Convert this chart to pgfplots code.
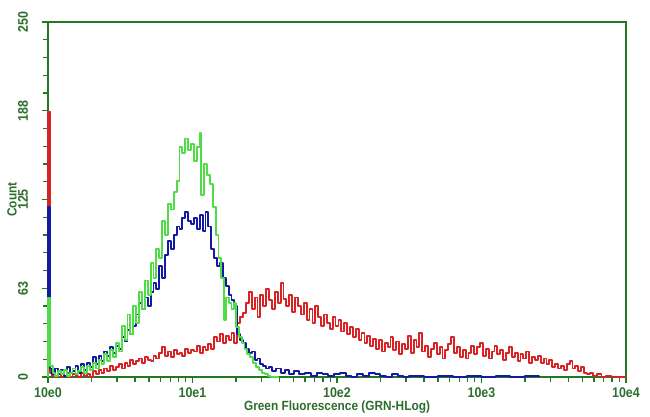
\documentclass[border=0pt]{standalone}
\usepackage{pgfplots}
\pgfplotsset{compat=1.18}
\usepackage{pgfplotstable}
\usepackage{fontspec}
\setmainfont[FakeStretch=0.89]{Liberation Sans}
\definecolor{frame}{RGB}{35,120,35}
\definecolor{lab}{RGB}{45,110,45}
\definecolor{cgreen}{RGB}{80,220,70}
\definecolor{cblue}{RGB}{20,25,165}
\definecolor{cred}{RGB}{215,35,35}

\pgfplotstableread[row sep=\\]{
d v \\
0 0 \\ 0.001 56 \\ 0.012 8 \\ 0.032 3 \\ 0.05 1 \\ 0.07 4 \\ 0.09 2 \\ 0.11 5 \\ 0.13 1 \\ 0.15 3 \\
0.17 6 \\ 0.19 2 \\ 0.21 4 \\ 0.23 7 \\ 0.25 3 \\ 0.27 8 \\ 0.29 5 \\ 0.31 10 \\ 0.33 6 \\ 0.35 12 \\
0.37 9 \\ 0.39 16 \\ 0.41 11 \\ 0.43 19 \\ 0.45 14 \\ 0.47 24 \\ 0.49 18 \\ 0.51 36 \\ 0.53 26 \\ 0.55 44 \\
0.57 30 \\ 0.59 50 \\ 0.61 38 \\ 0.63 60 \\ 0.65 48 \\ 0.67 68 \\ 0.69 58 \\ 0.71 80 \\ 0.73 70 \\ 0.75 90 \\
0.77 84 \\ 0.79 110 \\ 0.81 100 \\ 0.83 122 \\ 0.85 118 \\ 0.87 130 \\ 0.89 138 \\ 0.91 162 \\ 0.93 158 \\ 0.95 168 \\
0.97 160 \\ 0.99 164 \\ 1.01 152 \\ 1.03 162 \\ 1.05 172 \\ 1.06 128 \\ 1.08 150 \\ 1.10 142 \\ 1.12 136 \\ 1.14 120 \\
1.16 100 \\ 1.18 84 \\ 1.20 70 \\ 1.22 40 \\ 1.23 56 \\ 1.25 52 \\ 1.27 48 \\ 1.29 52 \\ 1.30 35 \\ 1.32 28 \\
1.34 24 \\ 1.36 20 \\ 1.38 16 \\ 1.40 14 \\ 1.42 10 \\ 1.44 7 \\ 1.46 5 \\ 1.48 3 \\ 1.50 2 \\ 1.52 1 \\
1.54 0 \\ 1.60 0 \\
}\greendata

\pgfplotstableread[row sep=\\]{
d v \\
0 0 \\ 0.003 120 \\ 0.016 6 \\ 0.03 2 \\ 0.05 6 \\ 0.07 2 \\ 0.09 5 \\ 0.11 1 \\ 0.13 7 \\ 0.15 3 \\
0.17 4 \\ 0.19 8 \\ 0.21 3 \\ 0.23 9 \\ 0.25 5 \\ 0.27 10 \\ 0.29 7 \\ 0.31 14 \\ 0.33 9 \\ 0.35 15 \\
0.37 11 \\ 0.39 18 \\ 0.41 15 \\ 0.43 21 \\ 0.45 17 \\ 0.47 22 \\ 0.49 20 \\ 0.51 28 \\ 0.53 25 \\ 0.55 33 \\
0.57 30 \\ 0.59 36 \\ 0.61 44 \\ 0.63 52 \\ 0.65 48 \\ 0.67 56 \\ 0.69 50 \\ 0.71 60 \\ 0.73 66 \\ 0.75 62 \\
0.77 78 \\ 0.79 70 \\ 0.81 86 \\ 0.83 96 \\ 0.85 90 \\ 0.87 100 \\ 0.89 106 \\ 0.91 104 \\ 0.93 112 \\ 0.95 116 \\
0.97 110 \\ 0.99 108 \\ 1.01 112 \\ 1.03 104 \\ 1.05 114 \\ 1.07 103 \\ 1.09 116 \\ 1.11 106 \\ 1.13 90 \\ 1.15 84 \\
1.17 78 \\ 1.19 80 \\ 1.21 70 \\ 1.23 64 \\ 1.25 58 \\ 1.27 54 \\ 1.29 50 \\ 1.31 30 \\ 1.33 26 \\ 1.35 24 \\
1.37 20 \\ 1.39 17 \\ 1.41 18 \\ 1.43 12 \\ 1.45 13 \\ 1.47 9 \\ 1.49 8 \\ 1.51 6 \\ 1.53 7 \\ 1.55 4 \\
1.58 6 \\ 1.61 3 \\ 1.64 5 \\ 1.67 2 \\ 1.70 4 \\ 1.74 2 \\ 1.78 3 \\ 1.82 1 \\ 1.86 3 \\ 1.90 2 \\
1.94 1 \\ 1.98 2 \\ 2.02 3 \\ 2.06 1 \\ 2.10 0 \\ 2.14 2 \\ 2.18 1 \\ 2.22 3 \\ 2.26 2 \\ 2.30 1 \\
2.34 0 \\ 2.38 2 \\ 2.42 1 \\ 2.46 0 \\ 2.50 1 \\ 2.60 0 \\ 2.70 1 \\ 2.80 0 \\ 2.90 1 \\ 3.00 0 \\
3.10 1 \\ 3.20 0 \\ 3.30 1 \\ 3.40 0 \\
}\bluedata

\pgfplotstableread[row sep=\\]{
d v \\
0 0 \\ 0.001 187 \\ 0.014 3 \\ 0.03 1 \\ 0.05 0 \\ 0.07 2 \\ 0.09 0 \\ 0.11 1 \\ 0.13 3 \\ 0.15 0 \\
0.17 2 \\ 0.19 1 \\ 0.21 0 \\ 0.23 3 \\ 0.25 1 \\ 0.27 2 \\ 0.29 0 \\ 0.31 4 \\ 0.33 2 \\ 0.35 5 \\
0.37 3 \\ 0.39 6 \\ 0.41 4 \\ 0.43 8 \\ 0.45 5 \\ 0.47 7 \\ 0.49 9 \\ 0.51 6 \\ 0.53 10 \\ 0.55 8 \\
0.57 12 \\ 0.59 9 \\ 0.61 11 \\ 0.63 13 \\ 0.65 10 \\ 0.67 14 \\ 0.69 12 \\ 0.71 11 \\ 0.73 15 \\ 0.75 13 \\
0.77 17 \\ 0.79 21 \\ 0.81 15 \\ 0.83 18 \\ 0.85 14 \\ 0.87 19 \\ 0.89 16 \\ 0.91 17 \\ 0.93 15 \\ 0.95 20 \\
0.97 17 \\ 0.99 19 \\ 1.01 18 \\ 1.03 22 \\ 1.05 17 \\ 1.07 21 \\ 1.09 19 \\ 1.11 23 \\ 1.13 20 \\ 1.15 28 \\
1.17 25 \\ 1.19 30 \\ 1.21 24 \\ 1.23 29 \\ 1.25 26 \\ 1.27 31 \\ 1.29 24 \\ 1.31 38 \\ 1.33 42 \\ 1.35 45 \\
1.37 52 \\ 1.39 60 \\ 1.41 48 \\ 1.43 56 \\ 1.45 42 \\ 1.47 58 \\ 1.49 50 \\ 1.51 62 \\ 1.53 54 \\ 1.55 48 \\
1.57 60 \\ 1.59 52 \\ 1.61 66 \\ 1.63 55 \\ 1.65 50 \\ 1.67 58 \\ 1.69 46 \\ 1.71 56 \\ 1.73 50 \\ 1.75 44 \\
1.77 52 \\ 1.79 40 \\ 1.81 48 \\ 1.83 38 \\ 1.85 50 \\ 1.87 42 \\ 1.89 36 \\ 1.91 44 \\ 1.93 38 \\ 1.95 34 \\
1.97 42 \\ 1.99 36 \\ 2.01 40 \\ 2.03 32 \\ 2.05 38 \\ 2.07 30 \\ 2.09 35 \\ 2.11 28 \\ 2.13 34 \\ 2.15 26 \\
2.17 31 \\ 2.19 24 \\ 2.21 29 \\ 2.23 22 \\ 2.25 27 \\ 2.27 20 \\ 2.29 26 \\ 2.31 18 \\ 2.33 24 \\ 2.35 21 \\
2.37 28 \\ 2.39 19 \\ 2.41 25 \\ 2.43 16 \\ 2.45 23 \\ 2.47 20 \\ 2.49 29 \\ 2.51 17 \\ 2.53 26 \\ 2.55 21 \\
2.57 31 \\ 2.59 18 \\ 2.61 22 \\ 2.63 14 \\ 2.65 20 \\ 2.67 24 \\ 2.69 16 \\ 2.71 21 \\ 2.73 13 \\ 2.75 19 \\
2.77 23 \\ 2.79 28 \\ 2.81 17 \\ 2.83 21 \\ 2.85 14 \\ 2.87 19 \\ 2.89 13 \\ 2.91 17 \\ 2.93 22 \\ 2.95 16 \\
2.97 21 \\ 2.99 24 \\ 3.01 15 \\ 3.03 20 \\ 3.05 13 \\ 3.07 18 \\ 3.09 22 \\ 3.11 16 \\ 3.13 19 \\ 3.15 12 \\
3.17 17 \\ 3.19 21 \\ 3.21 14 \\ 3.23 17 \\ 3.25 11 \\ 3.27 16 \\ 3.29 13 \\ 3.31 18 \\ 3.33 10 \\ 3.35 14 \\
3.37 12 \\ 3.39 15 \\ 3.41 10 \\ 3.43 13 \\ 3.45 9 \\ 3.47 12 \\ 3.49 7 \\ 3.51 9 \\ 3.53 6 \\ 3.55 8 \\
3.57 5 \\ 3.59 9 \\ 3.61 11 \\ 3.63 6 \\ 3.65 8 \\ 3.67 4 \\ 3.69 7 \\ 3.71 3 \\ 3.73 2 \\ 3.75 3 \\
3.77 1 \\ 3.80 2 \\ 3.83 0 \\ 3.86 1 \\ 3.90 0 \\ 4.00 0 \\
}\reddata

\begin{document}
\begin{tikzpicture}
\path[use as bounding box] (-36pt,-30pt) rectangle (451.5pt,282.75pt);
\begin{axis}[
  scale only axis,
  width=433.5pt, height=266.25pt,
  xmin=0, xmax=4, ymin=0, ymax=250,
  xtick={0,1,2,3,4},
  xticklabels={10e0,10e1,10e2,10e3,10e4},
  minor xtick={0.301,0.477,0.602,0.699,0.778,0.845,0.903,0.954,
               1.301,1.477,1.602,1.699,1.778,1.845,1.903,1.954,
               2.301,2.477,2.602,2.699,2.778,2.845,2.903,2.954,
               3.301,3.477,3.602,3.699,3.778,3.845,3.903,3.954},
  ytick={0,62.5,125,187.5,250},
  yticklabels={0,63,125,188,250},
  minor y tick num=4,
  tick pos=left,
  tick align=outside,
  major tick length=4.5pt,
  minor tick length=4pt,
  axis line style={frame, line width=1.5pt},
  tick style={frame, line width=0.9pt},
  tick label style={lab, font=\bfseries\fontsize{10.5}{12}\selectfont},
  yticklabel style={rotate=90, anchor=south},
  yticklabel shift=7pt,
  xlabel={Green Fluorescence (GRN-HLog)},
  ylabel={Count},
  every axis x label/.style={at={(axis description cs:0.5,0)}, yshift=-22.5pt, anchor=center, lab, font=\bfseries\fontsize{10}{12}\selectfont},
  every axis y label/.style={at={(axis description cs:0,0.5)}, xshift=-27pt, rotate=90, anchor=center, lab, font=\bfseries\fontsize{10}{12}\selectfont},
  clip=false,
]
\addplot[cred, line width=1.4pt, const plot, no marks, line join=round] table[x=d, y=v] {\reddata};
\addplot[cblue, line width=1.4pt, const plot, no marks, line join=round] table[x=d, y=v] {\bluedata};
\addplot[cgreen, line width=1.4pt, const plot, no marks, line join=round] table[x=d, y=v] {\greendata};
\end{axis}
\end{tikzpicture}
\end{document}
